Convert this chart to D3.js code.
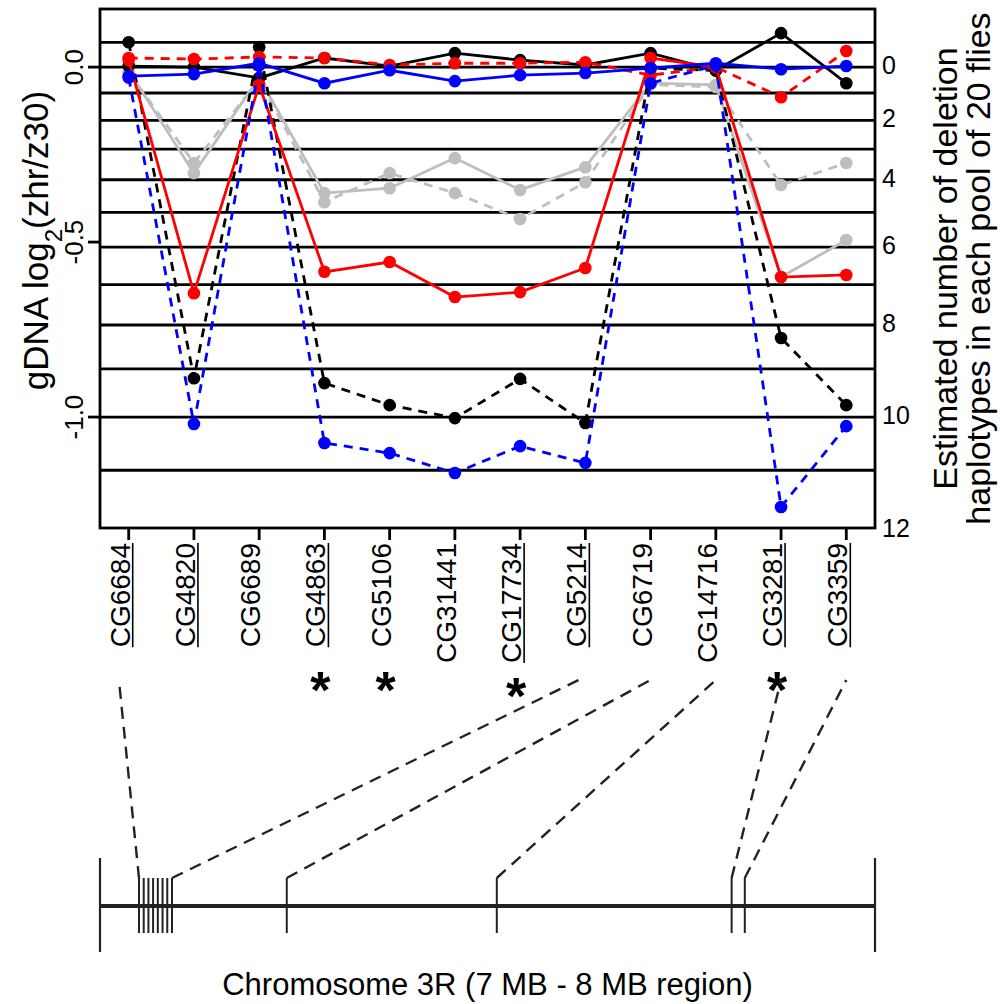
<!DOCTYPE html>
<html>
<head>
<meta charset="utf-8">
<script src="https://cdn.jsdelivr.net/npm/d3@7.9.0/dist/d3.min.js"></script>
<style>
  body { margin: 0; background: #fff; }
  svg { display: block; font-family: "Liberation Sans", Arial, sans-serif; }
</style>
</head>
<body>
<svg id="chart" width="1000" height="1004"></svg>
<script>
// genes along the x axis (left to right)
const genes = ['CG6684', 'CG4820', 'CG6689', 'CG4863', 'CG5106', 'CG31441',
  'CG17734', 'CG5214', 'CG6719', 'CG14716', 'CG3281', 'CG3359'];
const underlined = ['CG6684', 'CG4820', 'CG4863', 'CG17734', 'CG5214', 'CG3281', 'CG3359'];
const starred = ['CG4863', 'CG5106', 'CG17734', 'CG3281'];

// log2(zhr/z30) per gene, one array per pool
const blackSolid  = [0.003, 0.000, -0.031, 0.026, 0.003, 0.040, 0.020, 0.006, 0.040, -0.009, 0.097, -0.046];
const blackDashed = [0.071, -0.889, 0.057, -0.903, -0.966, -1.003, -0.891, -1.017, -0.003, -0.010, -0.774, -0.966];
const redSolid    = [0.020, -0.646, -0.051, -0.585, -0.557, -0.657, -0.643, -0.574, 0.026, 0.000, -0.600, -0.594];
const redDashed   = [0.026, 0.023, 0.029, 0.026, 0.006, 0.011, 0.011, 0.014, -0.023, 0.000, -0.086, 0.046];
const blueSolid   = [-0.026, -0.020, 0.011, -0.046, -0.009, -0.040, -0.023, -0.017, -0.003, 0.011, -0.006, 0.003];
const blueDashed  = [-0.030, -1.020, 0.005, -1.074, -1.103, -1.160, -1.083, -1.131, -0.046, 0.005, -1.257, -1.026];
const greySolid   = [-0.010, -0.303, -0.030, -0.360, -0.346, -0.260, -0.351, -0.286, -0.046, -0.051, -0.600, -0.494];
const greyDashed  = [-0.015, -0.274, -0.035, -0.386, -0.303, -0.360, -0.434, -0.329, -0.050, -0.057, -0.337, -0.274];

// haplotype counts (of 20 flies) drawn as reference lines / right axis
const haplotypeLines = [-1, 0, 1, 2, 3, 4, 5, 6, 7, 8, 9, 10, 11];
const haplotypeLabels = [0, 2, 4, 6, 8, 10, 12];
const leftTicks = [0, -0.5, -1];

// chromosome 3R positions (MB) of the 12 genes
const genePosMB = [7.0503, 7.0564, 7.0625, 7.0685, 7.0746, 7.0807, 7.0868, 7.0929,
  7.241, 7.512, 7.815, 7.832];
const linkedGenes = ['CG6684', 'CG5214', 'CG6719', 'CG14716', 'CG3281', 'CG3359'];
const linkTopPos = [0.85, 7.9, 9, 10, 11, 12];

const series = [
  { values: greySolid, color: '#bebebe', dash: null },
  { values: greyDashed, color: '#bebebe', dash: '9,7' },
  { values: blackSolid, color: '#000', dash: null },
  { values: blackDashed, color: '#000', dash: '9,7' },
  { values: redSolid, color: '#ff0000', dash: null },
  { values: redDashed, color: '#ff0000', dash: '9,7' },
  { values: blueSolid, color: '#0000ff', dash: null },
  { values: blueDashed, color: '#0000ff', dash: '9,7' },
];

const svg = d3.select('#chart');
const pLeft = 100, pRight = 875, pTop = 9, pBottom = 528;

const x = d3.scaleLinear().domain([0.56, 12.44]).range([pLeft, pRight]);
const y = d3.scaleLinear().domain([0.166, -1.317]).range([pTop, pBottom]);
const hap = n => Math.log2(1 - n / 20);

// reference lines
svg.append('g').selectAll('line')
  .data(haplotypeLines)
  .join('line')
  .attr('x1', pLeft).attr('x2', pRight)
  .attr('y1', d => y(hap(d))).attr('y2', d => y(hap(d)))
  .attr('stroke', '#000').attr('stroke-width', 2.8);

// series lines + points
const line = d3.line().x((d, i) => x(i + 1)).y(d => y(d));
series.forEach(s => {
  svg.append('path')
    .datum(s.values)
    .attr('d', line)
    .attr('fill', 'none')
    .attr('stroke', s.color)
    .attr('stroke-width', 2.8)
    .attr('stroke-dasharray', s.dash);
  svg.append('g').selectAll('circle')
    .data(s.values)
    .join('circle')
    .attr('cx', (d, i) => x(i + 1))
    .attr('cy', d => y(d))
    .attr('r', 6.3)
    .attr('fill', s.color);
});

// box
svg.append('rect')
  .attr('x', pLeft).attr('y', pTop)
  .attr('width', pRight - pLeft).attr('height', pBottom - pTop)
  .attr('fill', 'none').attr('stroke', '#000').attr('stroke-width', 2.8);

// left axis
const yl = svg.append('g');
yl.selectAll('line')
  .data(leftTicks)
  .join('line')
  .attr('x1', pLeft - 12).attr('x2', pLeft)
  .attr('y1', d => y(d)).attr('y2', d => y(d))
  .attr('stroke', '#000').attr('stroke-width', 2.8);
yl.selectAll('text')
  .data(leftTicks)
  .join('text')
  .attr('transform', d => `translate(83,${y(d)}) rotate(-90)`)
  .attr('text-anchor', 'middle')
  .attr('font-size', 26)
  .text(d => d3.format('.1f')(d).replace('−', '-'));

const ylab = svg.append('text')
  .attr('transform', `translate(48,${(pTop + pBottom) / 2 - 28}) rotate(-90)`)
  .attr('text-anchor', 'middle')
  .attr('font-size', 35);
ylab.append('tspan').text('gDNA log');
ylab.append('tspan').attr('baseline-shift', 'sub').attr('font-size', 24).text('2');
ylab.append('tspan').text('(zhr/z30)');

// right axis labels
svg.append('g').selectAll('text')
  .data(haplotypeLabels)
  .join('text')
  .attr('x', pRight + 7)
  .attr('y', d => y(hap(d)) + 7)
  .attr('font-size', 25)
  .text(d => d);

[['Estimated number of deletion', 957], ['haplotypes in each pool of 20 flies', 990]]
  .forEach(([t, bx]) => {
    svg.append('text')
      .attr('transform', `translate(${bx},${(pTop + pBottom) / 2}) rotate(-90)`)
      .attr('text-anchor', 'middle')
      .attr('font-size', 34)
      .text(t);
  });

// x axis ticks + gene labels
svg.append('g').selectAll('line')
  .data(genes)
  .join('line')
  .attr('x1', (d, i) => x(i + 1)).attr('x2', (d, i) => x(i + 1))
  .attr('y1', pBottom).attr('y2', pBottom + 12)
  .attr('stroke', '#000').attr('stroke-width', 2.8);

const labelTop = 543;
genes.forEach((g, i) => {
  const lg = svg.append('g')
    .attr('transform', `translate(${x(i + 1) + 1},${labelTop}) rotate(-90)`);
  const t = lg.append('text')
    .attr('text-anchor', 'end')
    .attr('font-size', 28)
    .text(g);
  if (underlined.includes(g)) {
    const len = t.node().getComputedTextLength();
    lg.append('line')
      .attr('x1', -len).attr('x2', 0)
      .attr('y1', 3).attr('y2', 3)
      .attr('stroke', '#000').attr('stroke-width', 1.6);
  }
});

// asterisks
svg.append('g').selectAll('text')
  .data(starred)
  .join('text')
  .attr('x', d => x(genes.indexOf(d) + 1) - 4)
  .attr('y', d => (d.length > 6 ? 714 : 708))
  .attr('text-anchor', 'middle')
  .attr('font-size', 52)
  .attr('font-weight', 'bold')
  .text('*');

// chromosome
const cx = d3.scaleLinear().domain([7, 8]).range([pLeft, pRight]);
const chromY = 906;
const ink = '#222';
svg.append('line')
  .attr('x1', cx(7)).attr('x2', cx(8))
  .attr('y1', chromY).attr('y2', chromY)
  .attr('stroke', ink).attr('stroke-width', 4);
svg.append('g').selectAll('line')
  .data([7, 8])
  .join('line')
  .attr('x1', d => cx(d)).attr('x2', d => cx(d))
  .attr('y1', chromY - 48).attr('y2', chromY + 46)
  .attr('stroke', ink).attr('stroke-width', 2.2);
svg.append('g').selectAll('line')
  .data(genePosMB)
  .join('line')
  .attr('x1', d => cx(d)).attr('x2', d => cx(d))
  .attr('y1', chromY - 28).attr('y2', chromY + 27)
  .attr('stroke', ink).attr('stroke-width', 2);

// dashed links gene -> label
svg.append('g').selectAll('line')
  .data(linkedGenes)
  .join('line')
  .attr('x1', d => cx(genePosMB[genes.indexOf(d)]))
  .attr('y1', chromY - 28)
  .attr('x2', (d, i) => x(linkTopPos[i]))
  .attr('y2', 680)
  .attr('stroke', ink).attr('stroke-width', 2.4)
  .attr('stroke-dasharray', '12,8');

svg.append('text')
  .attr('x', (pLeft + pRight) / 2)
  .attr('y', 995)
  .attr('text-anchor', 'middle')
  .attr('font-size', 31)
  .text('Chromosome 3R (7 MB - 8 MB region)');
</script>
</body>
</html>
